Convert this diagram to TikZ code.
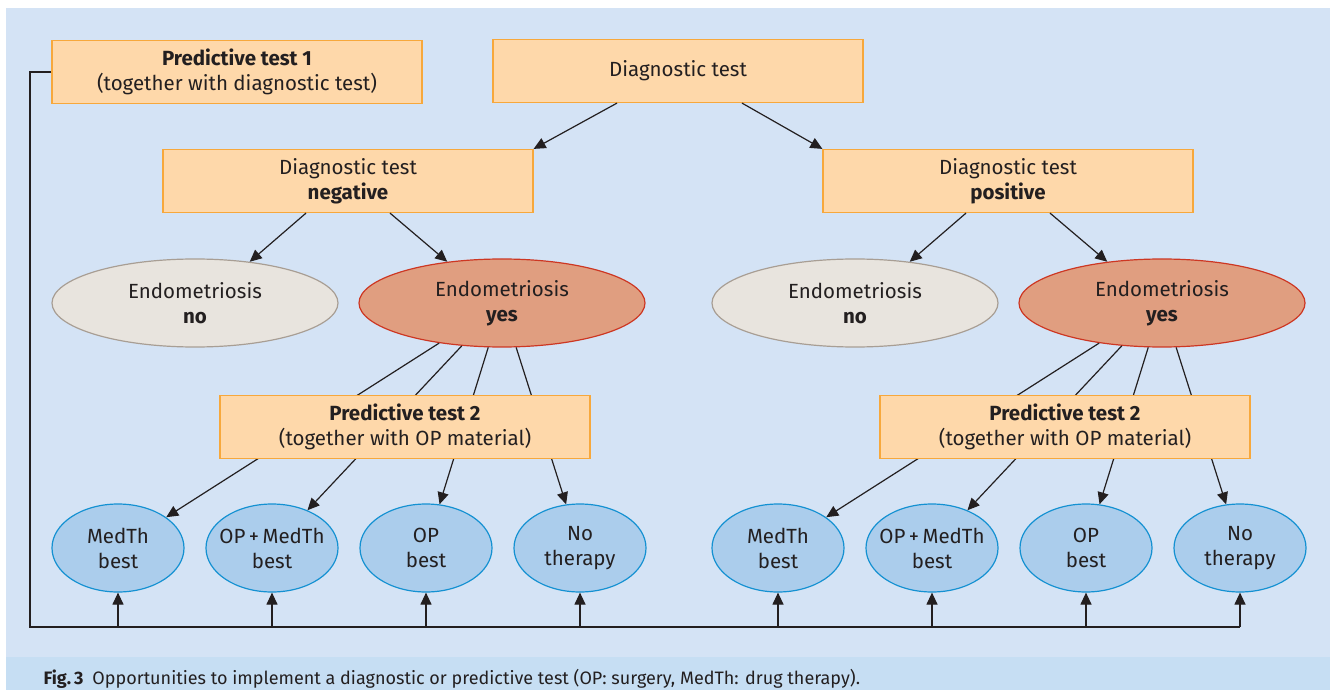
\documentclass[tikz,border=0pt]{standalone}
\usepackage{fontspec}
\setmainfont{Fira Sans}
\definecolor{panel}{RGB}{212,227,245}
\definecolor{capband}{RGB}{198,222,243}
\definecolor{boxfill}{RGB}{254,216,170}
\definecolor{boxline}{RGB}{247,168,60}
\definecolor{nofill}{RGB}{232,228,222}
\definecolor{noline}{RGB}{168,158,148}
\definecolor{yesfill}{RGB}{224,158,128}
\definecolor{yesline}{RGB}{205,55,35}
\definecolor{thfill}{RGB}{171,205,236}
\definecolor{thline}{RGB}{20,145,210}
\definecolor{ink}{RGB}{35,31,32}
\usetikzlibrary{arrows.meta}
\usetikzlibrary{positioning}
\usetikzlibrary{shapes}
\tikzset{
  every node/.style={text=ink, align=center, font=\fontsize{20.5}{25}\selectfont},
  box/.style={draw=boxline, fill=boxfill, line width=1.2pt,
    minimum width=370pt, minimum height=63pt, inner sep=0},
  endo/.style={ellipse, line width=1.2pt, minimum width=286pt, minimum height=88pt, inner sep=0},
  endono/.style={endo, draw=noline, fill=nofill},
  endoyes/.style={endo, draw=yesline, fill=yesfill},
  therapy/.style={ellipse, draw=thline, fill=thfill, line width=1.2pt,
    minimum width=132pt, minimum height=88pt, inner xsep=-10pt, inner ysep=0},
  link/.style={draw=ink, line width=1.2pt},
  arrow/.style={link, -{Triangle[length=12pt,width=11pt]}}
}
\begin{document}
\begin{tikzpicture}[x=1pt,y=-1pt]
  \useasboundingbox (0,0) rectangle (1330,700);
  \fill[white] (0,0) rectangle (1330,700);
  \fill[panel] (6,8) rectangle (1330,657);
  \fill[capband] (6,657) rectangle (1330,690);
  \node[anchor=base west, font=\fontsize{18}{20}\selectfont] (caption) at (40,684)
    {\textbf{Fig.\,3}\hspace{9pt}Opportunities to implement a diagnostic or predictive test (OP: surgery, MedTh: drug therapy).};

  \node[box] (pred1) at (237,72) {\textbf{Predictive test 1}\\(together with diagnostic test)};
  \node[box] (diag) at (678,71) {Diagnostic test};
  \node[box] (neg) at (348,181) {Diagnostic test\\\textbf{negative}};
  \node[box] (pos) at (1008,181) {Diagnostic test\\\textbf{positive}};

  \node[endono] (noL) at (195,303) {Endometriosis\\\textbf{no}};
  \node[endoyes] (yesL) at (502,303) {Endometriosis\\\textbf{yes}};
  \node[endono] (noR) at (855,303) {Endometriosis\\\textbf{no}};
  \node[endoyes] (yesR) at (1162,303) {Endometriosis\\\textbf{yes}};

  \node[therapy] (medL) at (118,548) {MedTh\\best};
  \node[therapy, right=20.8pt of medL] (opmedL) {OP\,+\,MedTh\\best};
  \node[therapy, right=20.8pt of opmedL] (opL) {OP\\best};
  \node[therapy, right=20.8pt of opL] (nothL) {No\\therapy};
  \node[therapy] (medR) at (778,548) {MedTh\\best};
  \node[therapy, right=20.8pt of medR] (opmedR) {OP\,+\,MedTh\\best};
  \node[therapy, right=20.8pt of opmedR] (opR) {OP\\best};
  \node[therapy, right=20.8pt of opR] (nothR) {No\\therapy};

  \draw[arrow] ([xshift=-61pt]diag.south) -- (neg.north east);
  \draw[arrow] ([xshift=64pt]diag.south) -- (pos.north west);
  \draw[arrow] ([xshift=-42pt]neg.south) -- (noL.37);
  \draw[arrow] ([xshift=42pt]neg.south) -- (yesL.143);
  \draw[arrow] ([xshift=-42pt]pos.south) -- (noR.37);
  \draw[arrow] ([xshift=42pt]pos.south) -- (yesR.143);

  \foreach \t in {medL,opmedL,opL,nothL}
    \draw[arrow] (yesL) -- (\t);
  \foreach \t in {medR,opmedR,opR,nothR}
    \draw[arrow] (yesR) -- (\t);

  \node[box] (pred2L) at (405,427) {\textbf{Predictive test 2}\\(together with OP material)};
  \node[box] (pred2R) at (1065,427) {\textbf{Predictive test 2}\\(together with OP material)};

  \coordinate (fbl) at (30,627);
  \draw[link] (pred1.west) -| (fbl) -- (nothR |- fbl);
  \foreach \t in {medL,opmedL,opL,nothL,medR,opmedR,opR,nothR}
    \draw[arrow] (\t |- fbl) -- (\t.south);
\end{tikzpicture}
\end{document}
